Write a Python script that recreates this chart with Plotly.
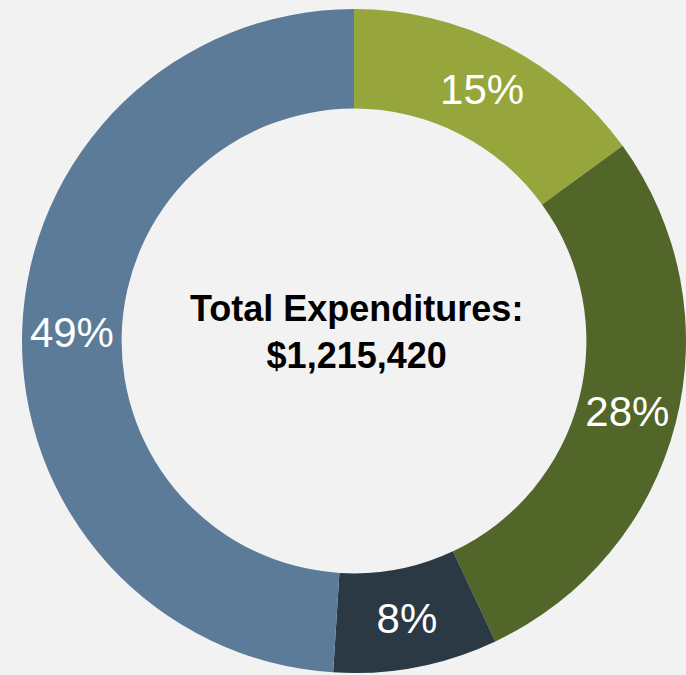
import plotly.graph_objects as go

categories = ["Category A", "Category B", "Category C", "Category D"]
shares = [15, 28, 8, 49]
colors = ["#96a63d", "#536629", "#2b3944", "#5b7b99"]
center_title = "Total Expenditures:"
center_total = "$1,215,420"

fig = go.Figure(
    go.Pie(
        labels=categories,
        values=shares,
        hole=0.70,
        sort=False,
        direction="clockwise",
        rotation=0,
        marker=dict(colors=colors, line=dict(width=0)),
        textinfo="percent",
        textposition="inside",
        insidetextorientation="horizontal",
        textfont=dict(family="Liberation Sans, Arial, sans-serif", size=42, color="white"),
        hoverinfo="label+percent",
    )
)

fig.add_annotation(
    text=f"<b>{center_title}</b><br><b>{center_total}</b>",
    x=0.5, y=0.5, xref="paper", yref="paper",
    yshift=9, xshift=2,
    showarrow=False,
    font=dict(family="Liberation Sans, Arial, sans-serif", size=36, color="black"),
    align="center",
)

fig.update_layout(
    width=686,
    height=675,
    margin=dict(l=22, r=0, t=7, b=0),
    paper_bgcolor="#f2f2f2",
    plot_bgcolor="#f2f2f2",
    showlegend=False,
)

fig.write_html(
    "out.html",
    config={"displayModeBar": False},
    post_script="document.body.style.margin='0';document.body.style.background='#f2f2f2';",
)
